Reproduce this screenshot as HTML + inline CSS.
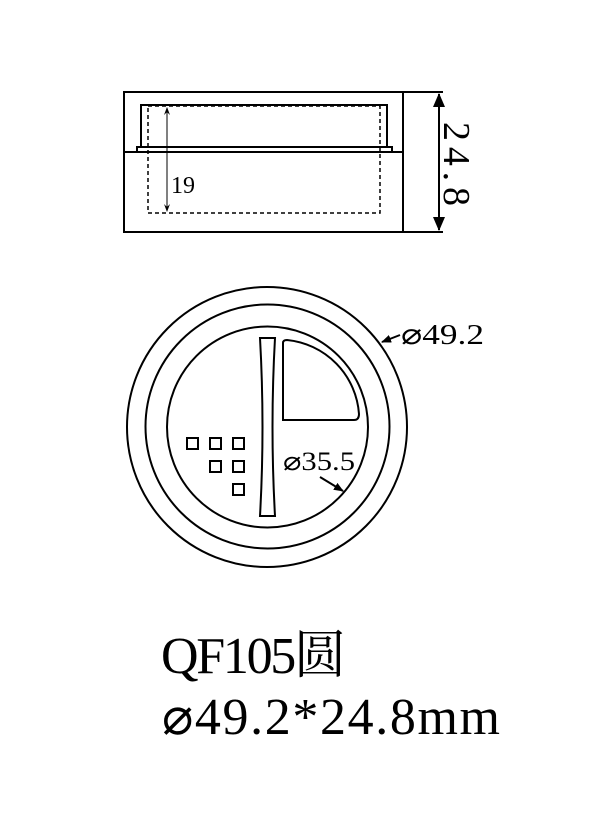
<!DOCTYPE html>
<html><head><meta charset="utf-8"><style>
html,body{margin:0;padding:0;background:#fff;}
svg{display:block;}
text{font-family:"Liberation Serif","Noto Serif CJK SC",serif;fill:#000;}
</style></head><body>
<svg width="608" height="819" viewBox="0 0 608 819" xmlns="http://www.w3.org/2000/svg">
<defs>
<marker id="a" markerWidth="10" markerHeight="10" refX="9" refY="5" orient="auto" markerUnits="userSpaceOnUse"><path d="M0,1 L10,5 L0,9 Z" fill="#000"/></marker>
<marker id="as" markerWidth="8" markerHeight="8" refX="7" refY="4" orient="auto" markerUnits="userSpaceOnUse"><path d="M0,1 L8,4 L0,7 L3,4 Z" fill="#000"/></marker>
<marker id="ab" markerWidth="14" markerHeight="14" refX="13" refY="7" orient="auto" markerUnits="userSpaceOnUse"><path d="M0,1 L14,7 L0,13 Z" fill="#000"/></marker>
</defs>
<g fill="none" stroke="#000" stroke-width="2">
<rect x="124" y="92" width="279" height="140"/>
<line x1="403" y1="92" x2="443" y2="92"/>
<line x1="403" y1="232" x2="443" y2="232"/>
<line x1="124" y1="152" x2="403" y2="152"/>
<rect x="137" y="147" width="255" height="5"/>
<polyline points="141,147 141,105 387,105 387,147"/>
<rect x="148" y="106" width="232" height="107" stroke-dasharray="4,3" stroke-width="1.5"/>
</g>
<line x1="167" y1="120" x2="167" y2="108" stroke="#000" stroke-width="1" marker-end="url(#as)"/>
<line x1="167" y1="120" x2="167" y2="211" stroke="#000" stroke-width="1" marker-end="url(#as)"/>
<line x1="439" y1="160" x2="439" y2="94" stroke="#000" stroke-width="2" marker-end="url(#ab)"/>
<line x1="439" y1="160" x2="439" y2="230" stroke="#000" stroke-width="2" marker-end="url(#ab)"/>
<text x="171" y="193" font-size="24">19</text>
<text transform="translate(444,122) rotate(90)" font-size="38" textLength="84" lengthAdjust="spacing">24.8</text>

<g fill="none" stroke="#000" stroke-width="2">
<circle cx="267" cy="427" r="140"/>
<circle cx="267.5" cy="426.5" r="122"/>
<circle cx="267.5" cy="427" r="100.5"/>
<path d="M260,338 L275,338 Q270,427 275,516 L260,516 Q265,427 260,338 Z"/>
<path d="M283,343 Q283,340 287,340 A80,80 0 0 1 359,414 Q359,420 354,420 L283,420 Z"/>
<rect x="187" y="438" width="11" height="11"/>
<rect x="210" y="438" width="11" height="11"/>
<rect x="233" y="438" width="11" height="11"/>
<rect x="210" y="461" width="11" height="11"/>
<rect x="233" y="461" width="11" height="11"/>
<rect x="233" y="484" width="11" height="11"/>
</g>
<line x1="400" y1="335" x2="382" y2="342" stroke="#000" stroke-width="2" marker-end="url(#a)"/>
<line x1="320" y1="477" x2="343" y2="491" stroke="#000" stroke-width="2" marker-end="url(#a)"/>
<text x="401" y="344" font-size="29" textLength="83" lengthAdjust="spacingAndGlyphs">⌀49.2</text>
<text x="283" y="470" font-size="26" textLength="72" lengthAdjust="spacingAndGlyphs">⌀35.5</text>

<text x="161" y="673" font-size="52" textLength="185" lengthAdjust="spacing">QF105圆</text>
<text x="162" y="734" font-size="52" textLength="338" lengthAdjust="spacing">⌀49.2*24.8mm</text>
</svg>
</body></html>
